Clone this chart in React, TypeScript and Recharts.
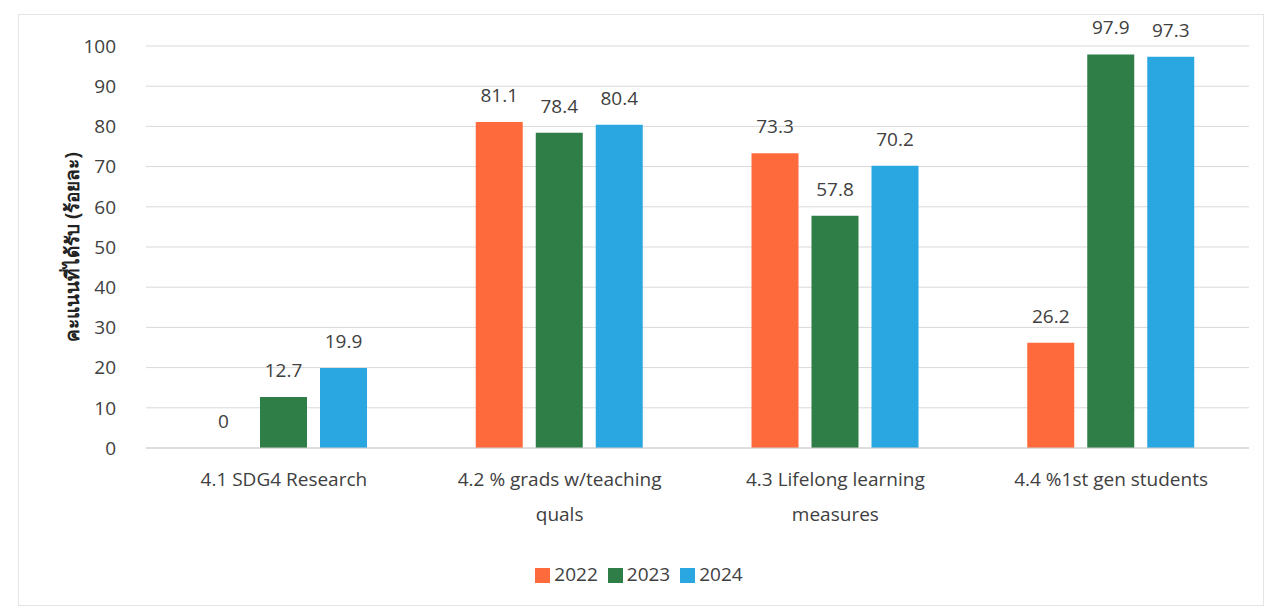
import { BarChart, Bar, XAxis, YAxis, CartesianGrid, Legend, LabelList, Text } from 'recharts'

const categories = [
  '4.1 SDG4 Research',
  '4.2 % grads w/teaching quals',
  '4.3 Lifelong learning measures',
  '4.4 %1st gen students',
]
const values2022 = [0, 81.1, 73.3, 26.2]
const values2023 = [12.7, 78.4, 57.8, 97.9]
const values2024 = [19.9, 80.4, 70.2, 97.3]
const yTicks = [0, 10, 20, 30, 40, 50, 60, 70, 80, 90, 100]

const series = [
  { key: 'y2022', label: '2022', color: '#FF6A3D', values: values2022 },
  { key: 'y2023', label: '2023', color: '#2F7D47', values: values2023 },
  { key: 'y2024', label: '2024', color: '#2AA7E1', values: values2024 },
]

const data = categories.map((name, i) => {
  const row: Record<string, string | number> = { name }
  series.forEach((s) => (row[s.key] = s.values[i]))
  return row
})

const FONT = "'Open Sans', 'Noto Sans', sans-serif"
const TEXT = '#404040'
const FS = 19

function CategoryTick({ x, y, payload }: any) {
  return (
    <Text
      x={x}
      y={y + 17}
      width={200}
      textAnchor="middle"
      verticalAnchor="start"
      lineHeight={35}
      fill={TEXT}
      style={{ fontSize: FS, fontFamily: FONT }}
    >
      {payload.value}
    </Text>
  )
}

function ValueLabel({ x, y, width, value }: any) {
  return (
    <text
      x={x + width / 2}
      y={y - 20}
      textAnchor="middle"
      fill={TEXT}
      fontSize={FS}
      fontFamily={FONT}
    >
      {value}
    </text>
  )
}

export default function App() {
  return (
    <div
      style={{
        width: 1244,
        height: 590,
        marginLeft: 10,
        marginTop: 6,
        border: '1px solid #e4e4e4',
        background: '#fff',
        fontFamily: FONT,
      }}
    >
      <BarChart
        width={1244}
        height={590}
        data={data}
        margin={{ top: 31, right: 14, left: 20, bottom: 10 }}
        barCategoryGap="19%"
        barGap={13}
      >
        <CartesianGrid vertical={false} stroke="#d9d9d9" />
        <XAxis
          dataKey="name"
          tick={<CategoryTick />}
          tickLine={false}
          axisLine={{ stroke: '#d0d0d0' }}
          interval={0}
          height={113}
        />
        <YAxis
          domain={[0, 100]}
          ticks={yTicks}
          tick={{ fill: TEXT, fontSize: FS, fontFamily: FONT }}
          tickLine={false}
          axisLine={false}
          tickMargin={24}
          width={107}
          label={{
            value: 'คะแนนที่ได้รับ (ร้อยละ)',
            angle: -90,
            position: 'insideLeft',
            dx: 28,
            style: { fill: '#222', fontSize: 19, fontWeight: 700, textAnchor: 'middle', fontFamily: FONT },
          }}
        />
        <Legend
          verticalAlign="bottom"
          iconType="square"
          iconSize={15}
          wrapperStyle={{ fontSize: FS, fontFamily: FONT, paddingBottom: 8 }}
          formatter={(v) => <span style={{ color: TEXT }}>{v}</span>}
        />
        {series.map((s) => (
          <Bar
            key={s.key}
            dataKey={s.key}
            name={s.label}
            fill={s.color}
            barSize={47}
            minPointSize={0.01}
            isAnimationActive={false}
          >
            <LabelList dataKey={s.key} content={<ValueLabel />} />
          </Bar>
        ))}
      </BarChart>
    </div>
  )
}
